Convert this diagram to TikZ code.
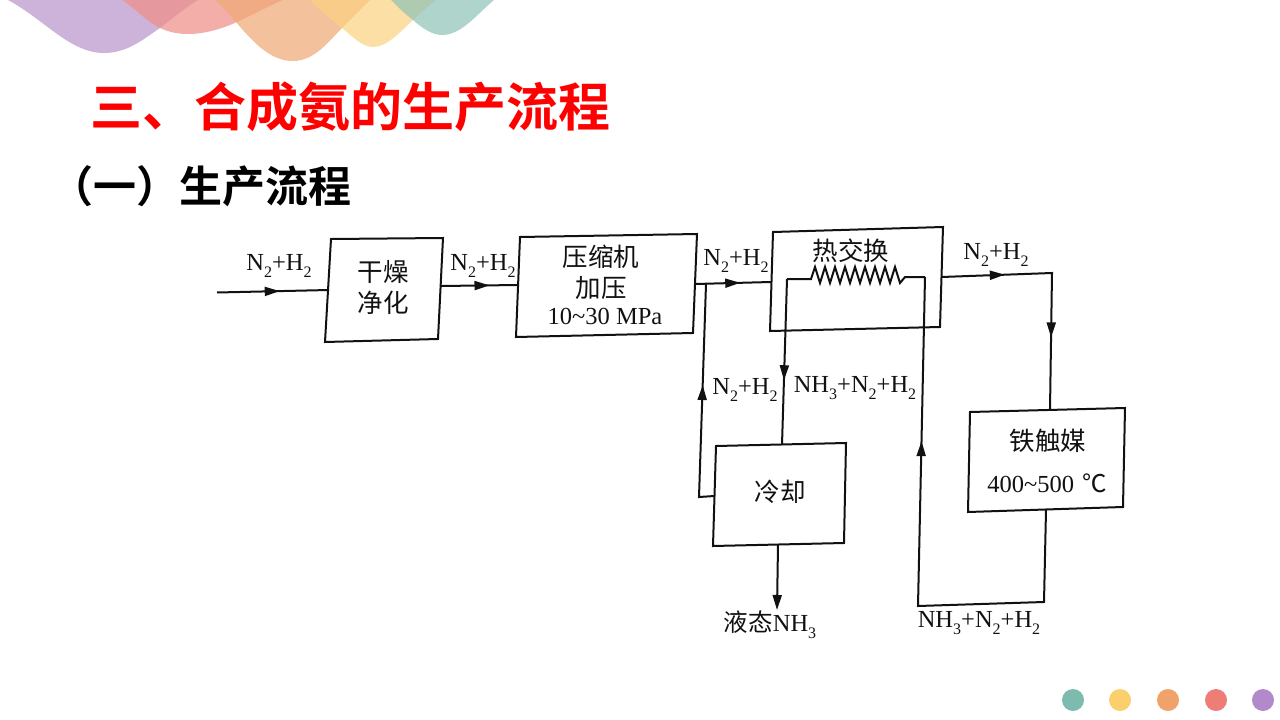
\documentclass[tikz,border=0pt]{standalone}
\usepackage{fontspec}
\setmainfont{Liberation Serif}
\newfontfamily\cjk{Noto Sans CJK SC}
\newfontfamily\cjkb{Noto Sans CJK SC Bold}
\usetikzlibrary{arrows.meta,decorations.markings}
\newcommand{\sbs}[1]{\raisebox{-0.3em}{\fontsize{16}{16}\selectfont #1}}
\newcommand{\NNHH}{N\sbs{2}+H\sbs{2}}
\newcommand{\AMM}{NH\sbs{3}+N\sbs{2}+H\sbs{2}}
\definecolor{ink}{HTML}{111111}
\tikzset{
  x=1pt,y=-1pt,
  flowbox/.style={draw=ink,line width=2pt,line join=miter},
  flow/.style={draw=ink,line width=2pt,line join=miter},
  tipat/.style={postaction={decorate},decoration={markings,mark=at position #1 with {\arrow[ink]{Triangle[length=15pt,width=9pt]}}}},
  lab/.style={text=ink,inner sep=0pt,font=\fontsize{24.5}{24.5}\selectfont},
  zh/.style={text=ink,inner sep=0pt,align=center,font=\cjk\fontsize{25.5}{31}\selectfont},
  wave/.style={opacity=0.72},
  dot/.style={circle,minimum size=22pt,inner sep=0pt},
}
\begin{document}
\begin{tikzpicture}
\useasboundingbox (0,0) rectangle (1280,720);
\fill[white] (0,0) rectangle (1280,720);
% top waves
\fill[wave,color={rgb,255:red,187;green,150;blue,203}] (8,0) .. controls (45,20) and (70,53) .. (104,53) .. controls (128,53) and (145,38) .. (160,28) .. controls (173,18) and (185,8) .. (198,0) -- cycle;
\fill[wave,color={rgb,255:red,239;green,143;blue,138}] (122,0) .. controls (135,8) and (147,22) .. (160,28) .. controls (185,40) and (215,32) .. (237,22) .. controls (252,15) and (268,7) .. (282,0) -- cycle;
\fill[wave,color={rgb,255:red,240;green,170;blue,120}] (215,0) .. controls (240,22) and (260,61) .. (293,61) .. controls (315,61) and (330,40) .. (342,28) .. controls (352,18) and (362,8) .. (370,0) -- cycle;
\fill[wave,color={rgb,255:red,252;green,211;blue,130}] (310,0) .. controls (320,10) and (332,20) .. (342,28) .. controls (352,36) and (362,47) .. (373,47) .. controls (387,47) and (400,32) .. (413,20) .. controls (421,13) and (428,6) .. (436,0) -- cycle;
\fill[wave,color={rgb,255:red,145;green,196;blue,184}] (391,0) .. controls (398,7) and (405,14) .. (413,20) .. controls (422,28) and (432,35) .. (442,35) .. controls (462,35) and (478,13) .. (494,0) -- cycle;
% bottom dots
\node[dot,fill={rgb,255:red,125;green,187;blue,174}] (d1) at (1073,700) {};
\node[dot,fill={rgb,255:red,251;green,207;blue,107}] (d2) at (1120,700) {};
\node[dot,fill={rgb,255:red,240;green,162;blue,106}] (d3) at (1168,700) {};
\node[dot,fill={rgb,255:red,238;green,125;blue,120}] (d4) at (1216,700) {};
\node[dot,fill={rgb,255:red,178;green,138;blue,203}] (d5) at (1263,700) {};
% titles
\node[anchor=west,inner sep=0pt,text=red,font=\cjkb\fontsize{52}{52}\selectfont] (title) at (90.5,107) {三、合成氨的生产流程};
\node[anchor=west,inner sep=0pt,text=black,font=\cjkb\fontsize{43}{43}\selectfont] (sub) at (50,186) {（一）生产流程};
% boxes
\coordinate (a1) at (331,239); \coordinate (a2) at (443,238); \coordinate (a3) at (438,339); \coordinate (a4) at (325,342);
\coordinate (b1) at (520,237); \coordinate (b2) at (697,234); \coordinate (b3) at (693,333); \coordinate (b4) at (516,337);
\coordinate (c1) at (773,232); \coordinate (c2) at (943,227); \coordinate (c3) at (940,327); \coordinate (c4) at (770,331);
\coordinate (e1) at (970,412); \coordinate (e2) at (1125,408); \coordinate (e3) at (1123,507); \coordinate (e4) at (968,512);
\coordinate (f1) at (716,446); \coordinate (f2) at (846,443); \coordinate (f3) at (844,543); \coordinate (f4) at (713,546);
\draw[flowbox] (a1)--(a2)--(a3)--(a4)--cycle;
\draw[flowbox] (b1)--(b2)--(b3)--(b4)--cycle;
\draw[flowbox] (c1)--(c2)--(c3)--(c4)--cycle;
\draw[flowbox] (e1)--(e2)--(e3)--(e4)--cycle;
\draw[flowbox] (f1)--(f2)--(f3)--(f4)--cycle;
% box text
\node[zh] (dry) at (383,287) {干燥\\净化};
\node[zh] (comp) at (601,272) {压缩机\\加压};
\node[lab] (compb) at (605,316) {10\textasciitilde30 MPa};
\node[zh] (heat) at (851,251) {热交换};
\node[zh] (cat) at (1048,441) {铁触媒};
\node[lab] (catb) at (1047,483) {400\textasciitilde500\,\,{\cjk ℃}};
\node[zh] (cool) at (780,492) {冷却};
% connector ends
\coordinate (in) at (217,292.5); \coordinate (ain) at (329,290);
\coordinate (aout) at (441,286); \coordinate (bin) at (518,285);
\coordinate (bout) at (695,284); \coordinate (cin) at (771,282);
\coordinate (jn) at (706,284); \coordinate (rc) at (699,497); \coordinate (fl) at (714.5,496);
\coordinate (cl) at (787,279); \coordinate (zl) at (811,279); \coordinate (zr) at (905,277); \coordinate (cr) at (925,277);
\coordinate (ft) at (782,445);
\coordinate (cout) at (941.5,277); \coordinate (k1) at (1052,273); \coordinate (et) at (1050,410);
\coordinate (eb) at (1046,510); \coordinate (k2) at (1044,602); \coordinate (k3) at (918,606);
\coordinate (fb) at (778,545); \coordinate (liq) at (777,610);
% connectors
\draw[flow,tipat=0.56] (in) -- (ain);
\draw[flow,tipat=0.63] (aout) -- (bin);
\draw[flow,tipat=0.595] (bout) -- (cin);
\draw[flow,tipat=0.558] (fl) -- (rc) -- (jn);
\draw[flow,tipat=0.61] (cl) -- (ft);
\draw[flow] (cl) -- (zl)
  -- ++(4,-12) -- ++(5,16) -- ++(5,-16) -- ++(5,16) -- ++(5,-16) -- ++(5,16) -- ++(5,-16) -- ++(5,16) -- ++(5,-16) -- ++(5,16) -- ++(5,-16) -- ++(5,16) -- ++(5,-16) -- ++(5,16) -- ++(5,-16) -- ++(5,16) -- ++(5,-16) -- ++(5,16) -- (zr) -- (cr);
\draw[flow,tipat=0.70] (eb) -- (k2) -- (k3) -- (cr);
\draw[flow,tipat=0.256] (cout) -- (k1) -- (et);
\path[flow,draw=none,tipat=0.47] (k1) -- (et);
\draw[flow,-{Triangle[length=15pt,width=9pt]}] (fb) -- (liq);
% flow labels
\node[lab] (l1) at (279,266) {\NNHH};
\node[lab] (l2) at (483,266) {\NNHH};
\node[lab] (l3) at (736,261) {\NNHH};
\node[lab] (l4) at (996,255) {\NNHH};
\node[lab] (l5) at (745,390) {\NNHH};
\node[lab] (l6) at (855,388) {\AMM};
\node[lab] (l7) at (979,623) {\AMM};
\node[lab] (l8) at (770,625) {{\cjk 液态}NH\sbs{3}};
\end{tikzpicture}
\end{document}
